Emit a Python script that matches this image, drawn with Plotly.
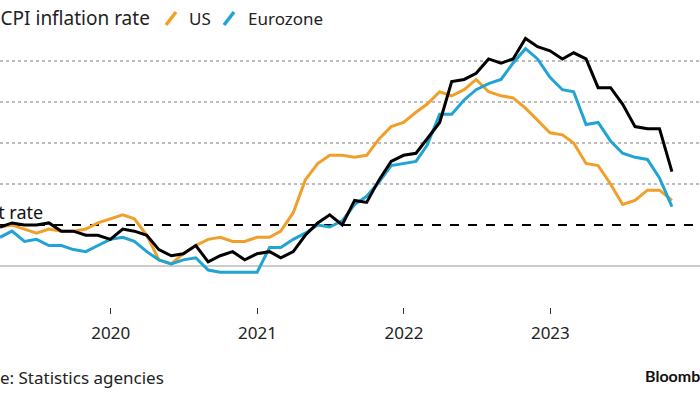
import pandas as pd
import plotly.graph_objects as go

# Monthly annual CPI inflation (%), Mar 2019 - Oct 2023, plotted at month end
months = pd.date_range("2019-03-31", "2023-10-31", freq="ME")

uk = [1.9, 2.1, 2.0, 2.0, 2.1, 1.7, 1.7, 1.5, 1.5, 1.3,
      1.8, 1.7, 1.5, 0.8, 0.5, 0.6, 1.0, 0.2, 0.5, 0.7, 0.3, 0.6,
      0.7, 0.4, 0.7, 1.5, 2.1, 2.5, 2.0, 3.2, 3.1, 4.2, 5.1, 5.4,
      5.5, 6.2, 7.0, 9.0, 9.1, 9.4, 10.1, 9.9, 10.1, 11.1, 10.7, 10.5,
      10.1, 10.4, 10.1, 8.7, 8.7, 7.9, 6.8, 6.7, 6.7, 4.6]
us = [1.9, 2.0, 1.8, 1.6, 1.8, 1.7, 1.7, 1.8, 2.1, 2.3,
      2.5, 2.3, 1.5, 0.3, 0.1, 0.6, 1.0, 1.3, 1.4, 1.2, 1.2, 1.4,
      1.4, 1.7, 2.6, 4.2, 5.0, 5.4, 5.4, 5.3, 5.4, 6.2, 6.8, 7.0,
      7.5, 7.9, 8.5, 8.3, 8.6, 9.1, 8.5, 8.3, 8.2, 7.7, 7.1, 6.5,
      6.4, 6.0, 5.0, 4.9, 4.0, 3.0, 3.2, 3.7, 3.7, 3.2]
ez = [1.4, 1.7, 1.2, 1.3, 1.0, 1.0, 0.8, 0.7, 1.0, 1.3,
      1.4, 1.2, 0.7, 0.3, 0.1, 0.3, 0.4, -0.2, -0.3, -0.3, -0.3, -0.3,
      0.9, 0.9, 1.3, 1.6, 2.0, 1.9, 2.2, 3.0, 3.4, 4.1, 4.9, 5.0,
      5.1, 5.9, 7.4, 7.4, 8.1, 8.6, 8.9, 9.1, 9.9, 10.6, 10.1, 9.2,
      8.6, 8.5, 6.9, 7.0, 6.1, 5.5, 5.3, 5.2, 4.3, 2.9]

series_names = ["UK CPI inflation rate", "US", "Eurozone"]
target_rate = 2
grid_values = [4, 6, 8, 10]
year_ticks = ["2020-01-01", "2021-01-01", "2022-01-01", "2023-01-01"]
year_labels = ["2020", "2021", "2022", "2023"]

BLACK = "#000000"
ORANGE = "#F0A02A"
BLUE = "#21A3D3"
FONT = "Noto Sans"

W, H = 700, 394
T, B = 20, 87
PH = H - T - B


def px(x):
    return x / W


def py(y):
    return (H - B - y) / PH


fig = go.Figure()
for vals, name, col in [(us, "US", ORANGE), (ez, "Eurozone", BLUE), (uk, series_names[0], BLACK)]:
    fig.add_trace(go.Scatter(x=months, y=vals, mode="lines", name=name,
                             line=dict(color=col, width=3), showlegend=False))

shapes = []
for g in grid_values:
    shapes.append(dict(type="line", xref="paper", x0=0, x1=1, yref="y", y0=g, y1=g,
                       line=dict(color="#a8a8a8", width=1.5, dash="dot"), layer="below"))
shapes.append(dict(type="line", xref="paper", x0=0, x1=1, yref="y", y0=0, y1=0,
                   line=dict(color="#9a9a9a", width=1.2), layer="below"))
shapes.append(dict(type="line", xref="paper", x0=0, x1=697 / W, yref="y", y0=target_rate, y1=target_rate,
                   line=dict(color=BLACK, width=2, dash="dash"), layer="below"))
# legend slash icons
for x0, col in [(166, ORANGE), (224, BLUE)]:
    shapes.append(dict(type="line", xref="paper", yref="paper",
                       x0=px(x0), y0=py(25), x1=px(x0 + 10), y1=py(12),
                       line=dict(color=col, width=3.5)))

TXT = "#222"
annotations = [
    dict(text=series_names[0], xref="paper", yref="paper", x=px(152), y=py(18),
         xanchor="right", yanchor="middle", showarrow=False,
         font=dict(family=FONT, size=19, color=TXT)),
    dict(text="US", xref="paper", yref="paper", x=px(187), y=py(18),
         xanchor="left", yanchor="middle", showarrow=False,
         font=dict(family=FONT, size=17, color=TXT)),
    dict(text="Eurozone", xref="paper", yref="paper", x=px(246), y=py(18),
         xanchor="left", yanchor="middle", showarrow=False,
         font=dict(family=FONT, size=17, color=TXT)),
    dict(text="Target rate", xref="paper", yref="paper", x=px(45), y=py(212),
         xanchor="right", yanchor="middle", showarrow=False,
         font=dict(family=FONT, size=18, color="#111")),
    dict(text="Source: Statistics agencies", xref="paper", yref="paper", x=px(166), y=py(377),
         xanchor="right", yanchor="middle", showarrow=False,
         font=dict(family=FONT, size=17, color=TXT)),
    dict(text="<b>Bloomberg</b>", xref="paper", yref="paper", x=px(643), y=py(375),
         xanchor="left", yanchor="middle", showarrow=False,
         font=dict(family="Lato", size=16, color="#111")),
]

fig.update_layout(
    width=W, height=H,
    margin=dict(l=0, r=0, t=T, b=B),
    paper_bgcolor="white", plot_bgcolor="white",
    shapes=shapes, annotations=annotations,
    xaxis=dict(range=["2019-03-31", "2024-01-09"], showgrid=False, zeroline=False,
               showline=False, tickmode="array", tickvals=year_ticks, ticktext=year_labels,
               ticks="outside", ticklen=6, tickwidth=1, tickcolor="#333",
               ticklabelstandoff=5,
               tickfont=dict(family=FONT, size=17, color=TXT)),
    yaxis=dict(range=[-2, 12], showgrid=False, zeroline=False, showticklabels=False,
               showline=False, fixedrange=True),
    showlegend=False,
)

fig.write_html("out.html", config={"displayModeBar": False},
               post_script="document.body.style.margin='0';")
